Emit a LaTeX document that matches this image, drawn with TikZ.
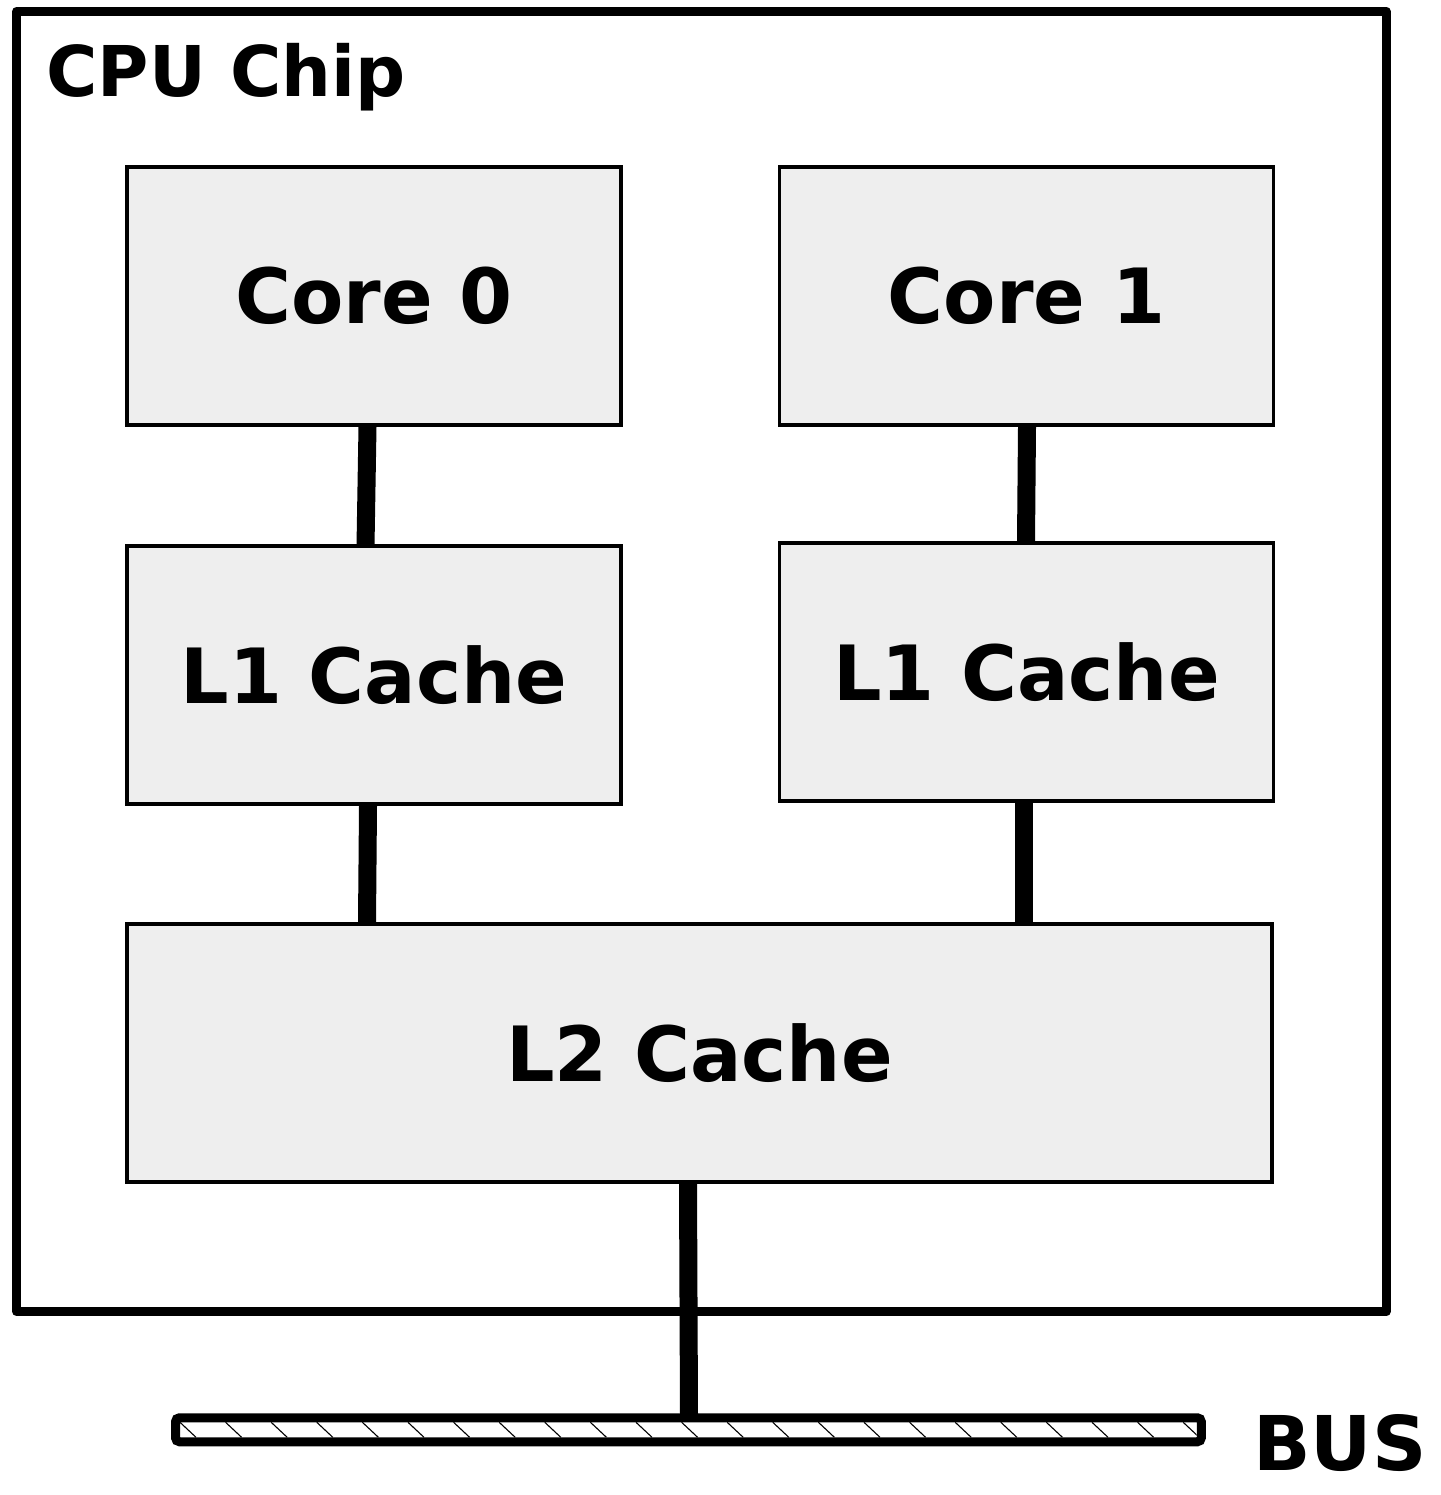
\documentclass[tikz,border=0pt]{standalone}
\usepackage{fontspec}
\setmainfont{DejaVu Sans}
\begin{document}
\begin{tikzpicture}[x=1pt,y=-1pt,
  unitbox/.style={draw, line width=3.6pt, fill=boxgray, minimum width=494pt, minimum height=258pt, inner sep=0pt,
    font=\fontsize{76.2}{90}\selectfont\bfseries},
  link/.style={line width=18pt, line cap=butt},
  hatch/.style={line width=1.1pt}]
\definecolor{boxgray}{HTML}{EEEEEE}
\useasboundingbox (0,0) rectangle (1440,1495);
% chip outline
\node[draw, line width=9pt, line join=round, minimum width=1369.2pt, minimum height=1300.4pt, inner sep=0pt] (chip) at (701.4,661.5) {};
\node[anchor=base west, inner sep=0pt, font=\fontsize{70}{82}\selectfont\bfseries] (chiplbl) at (46.4,97) {CPU Chip};
% units
\node[unitbox] (c0) at (374,296) {Core 0};
\node[unitbox] (c1) at (1026.5,296) {Core 1};
\node[unitbox] (l1a) at (374,675) {L1 Cache};
\node[unitbox] (l1b) at (1026.5,672) {L1 Cache};
\node[unitbox, minimum width=1145pt] (l2) at (699.5,1053) {L2 Cache};
% bus
\node[draw, line width=9pt, rounded corners=4pt, minimum width=1025.8pt, minimum height=24pt, inner sep=0pt] (bus) at (688.4,1429.75) {};
\begin{scope}
  \clip (180,1422.3) rectangle (1196.7,1437.3);
  \foreach \i in {0,...,23} {
    \draw[hatch] ({180+45.6*\i},1422.3) -- ({196+45.6*\i},1437.3);
  }
\end{scope}
\node[anchor=base west, inner sep=0pt, font=\fontsize{75.5}{88}\selectfont\bfseries] (buslbl) at (1253,1470) {BUS};
% connectors
\draw[link] ([xshift=-6.5pt]c0.south) -- ([xshift=-8.5pt,yshift=-2pt]l1a.north);
\draw[link] ([xshift=-6pt]l1a.south) -- ([xshift=-7pt]l1a.south |- l2.north);
\draw[link] ([xshift=0.5pt]c1.south) -- ([xshift=-0.5pt]l1b.north);
\draw[link] ([xshift=-2.5pt]l1b.south) -- ([xshift=-2.5pt]l1b.south |- l2.north);
\draw[link] ([xshift=-11.5pt]l2.south) -- ([xshift=0.6pt,yshift=-2.5pt]bus.north);
\end{tikzpicture}
\end{document}
